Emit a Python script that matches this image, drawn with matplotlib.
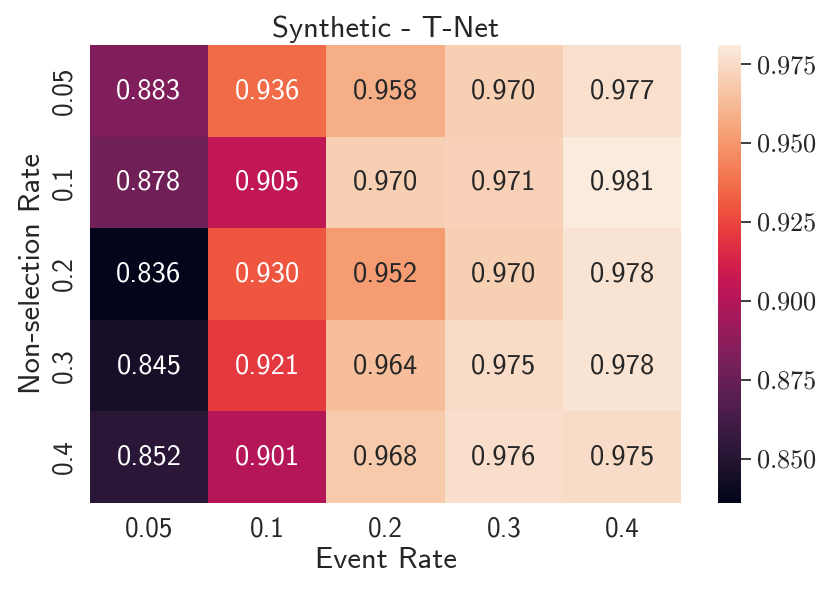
import numpy as np
import matplotlib
matplotlib.use("Agg")
import matplotlib.pyplot as plt
import seaborn as sns

event_rates = ["0.05", "0.1", "0.2", "0.3", "0.4"]
nonsel_rates = ["0.05", "0.1", "0.2", "0.3", "0.4"]
auc = np.array([
    [0.883, 0.936, 0.958, 0.970, 0.977],
    [0.878, 0.905, 0.970, 0.971, 0.981],
    [0.836, 0.930, 0.952, 0.970, 0.978],
    [0.845, 0.921, 0.964, 0.975, 0.978],
    [0.852, 0.901, 0.968, 0.976, 0.975],
])
cbar_ticks = [0.850, 0.875, 0.900, 0.925, 0.950, 0.975]

sns.set_theme(style="white")
plt.rcParams['font.family'] = ['cmss10', 'DejaVu Sans']
plt.rcParams['mathtext.fontset'] = 'cm'
plt.rcParams['axes.unicode_minus'] = False

fig, ax = plt.subplots(figsize=(8.31, 5.93), dpi=100)
hm = sns.heatmap(auc, annot=True, fmt=".3f", cmap="rocket", ax=ax,
                 xticklabels=event_rates, yticklabels=nonsel_rates,
                 annot_kws={"size": 20.5}, cbar_kws={"ticks": cbar_ticks})

ax.set_title("Synthetic - T-Net", fontsize=22)
ax.set_xlabel("Event Rate", fontsize=22)
ax.set_ylabel("Non-selection Rate", fontsize=22)
ax.tick_params(axis='both', labelsize=19.5)
plt.setp(ax.get_yticklabels(), rotation=90, va='center')

cbar = hm.collections[0].colorbar
cbar.ax.set_yticks(cbar_ticks)
cbar.ax.set_yticklabels(["$%.3f$" % t for t in cbar_ticks], fontsize=19)
cbar.ax.tick_params(length=7, width=1.25, pad=3.5, color='#262626')

plt.subplots_adjust(left=0.108, right=0.998, bottom=0.152, top=0.924)
fig.savefig("out.png", dpi=100)
